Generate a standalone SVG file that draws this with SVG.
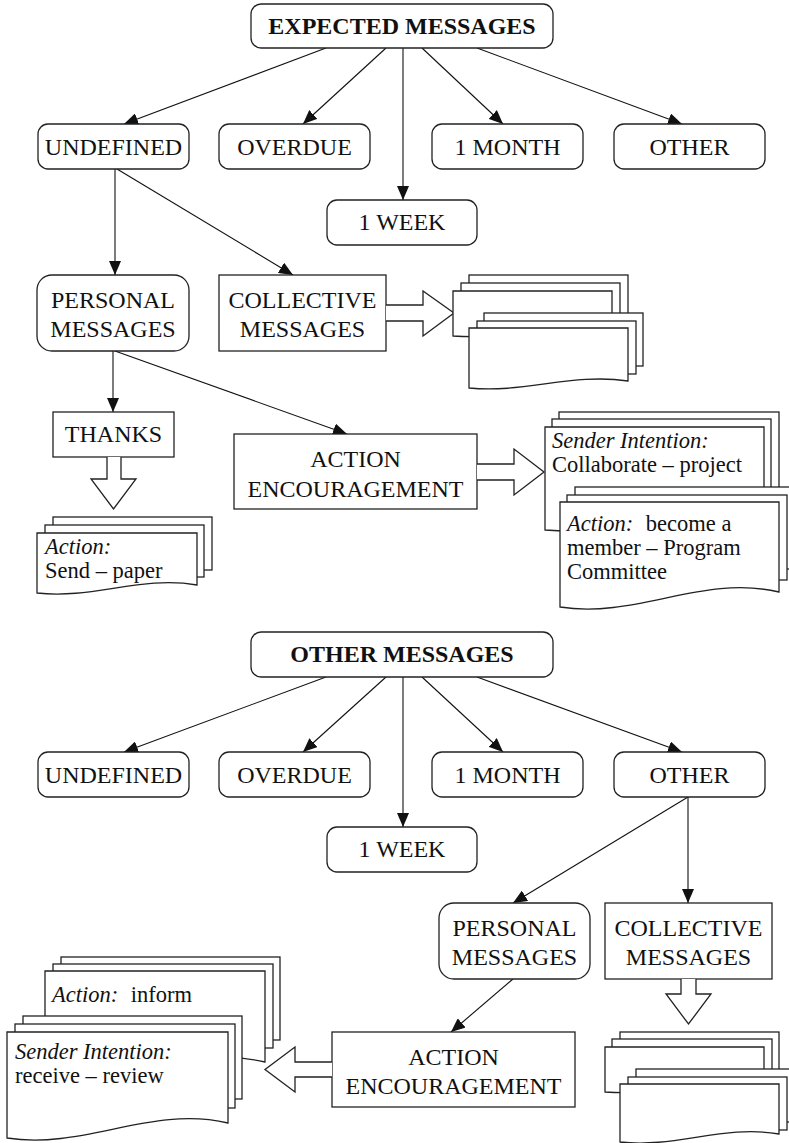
<svg xmlns="http://www.w3.org/2000/svg" width="789" height="1143" viewBox="0 0 789 1143" font-family="'Liberation Serif', 'DejaVu Serif', serif">
<style>
text{font-family:'Liberation Serif','Times New Roman','DejaVu Serif',serif;font-size:24px;fill:#111;}
text.d{font-size:22.5px;}
.b{font-weight:bold;}
.i{font-style:italic;}
.c{text-anchor:middle;}
.box{fill:#fff;stroke:#222;stroke-width:1.3;}
.sh{fill:#fff;stroke:#222;stroke-width:1.3;}
.ln{fill:none;stroke:#111;stroke-width:1.1;marker-end:url(#ah);}
.ba{fill:#fff;stroke:#222;stroke-width:1.3;}
</style>
<defs>
<marker id="ah" markerWidth="14" markerHeight="12" refX="14" refY="6" orient="auto" markerUnits="userSpaceOnUse"><path d="M0,0 L14,6 L0,12 Z" fill="#111"/></marker>
</defs>
<rect width="789" height="1143" fill="#fff"/>

<g id="connectors">
<line class="ln" x1="326" y1="48" x2="124" y2="124"/>
<line class="ln" x1="386" y1="48" x2="303" y2="124"/>
<line class="ln" x1="403" y1="48" x2="403" y2="200"/>
<line class="ln" x1="422" y1="48" x2="503" y2="124"/>
<line class="ln" x1="477" y1="48" x2="682" y2="124"/>
<line class="ln" x1="115" y1="169" x2="115" y2="275"/>
<line class="ln" x1="117" y1="169" x2="293" y2="275"/>
<line class="ln" x1="113" y1="351" x2="113" y2="412"/>
<line class="ln" x1="115" y1="351" x2="347" y2="434"/>
<line class="ln" x1="326" y1="677" x2="124" y2="752"/>
<line class="ln" x1="386" y1="677" x2="303" y2="752"/>
<line class="ln" x1="403" y1="677" x2="403" y2="827"/>
<line class="ln" x1="422" y1="677" x2="503" y2="752"/>
<line class="ln" x1="477" y1="677" x2="682" y2="752"/>
<line class="ln" x1="688" y1="797" x2="513" y2="903"/>
<line class="ln" x1="688" y1="797" x2="688" y2="903"/>
<line class="ln" x1="513" y1="979" x2="451" y2="1032"/>
</g>

<g id="expected"><rect class="box" x="251" y="4" width="302" height="44" rx="10"/><text class="b c" x="402" y="34">EXPECTED MESSAGES</text></g>
<g id="undefined1"><rect class="box" x="38" y="124" width="151" height="45" rx="10"/><text class="c" x="113.5" y="155">UNDEFINED</text></g>
<g id="overdue1"><rect class="box" x="219" y="124" width="151" height="45" rx="10"/><text class="c" x="294.5" y="155">OVERDUE</text></g>
<g id="month1"><rect class="box" x="432" y="124" width="151" height="45" rx="10"/><text class="c" x="507.5" y="155">1 MONTH</text></g>
<g id="other1"><rect class="box" x="614" y="124" width="151" height="45" rx="10"/><text class="c" x="689.5" y="155">OTHER</text></g>
<g id="week1"><rect class="box" x="327" y="200" width="150" height="45" rx="10"/><text class="c" x="402" y="230">1 WEEK</text></g>

<g id="personal1"><rect class="box" x="37" y="275" width="152" height="76" rx="15"/><text class="c" x="113" y="308">PERSONAL</text><text class="c" x="113" y="337">MESSAGES</text></g>
<g id="collective1"><rect class="box" x="219" y="275" width="167" height="76"/><text class="c" x="302.5" y="308">COLLECTIVE</text><text class="c" x="302.5" y="337">MESSAGES</text>
<path class="ba" d="M386,305 H423 V291 L454,313 L423,336 V321 H386"/></g>

<g id="docs-collective1">
<rect class="sh" x="469" y="275" width="159" height="45"/>
<rect class="sh" x="461" y="283" width="159" height="45"/>
<path class="sh" d="M453,291 H612 V331 C556.4,325 508.7,340 453,336 Z"/>
<rect class="sh" x="484" y="313" width="159" height="53"/>
<rect class="sh" x="477" y="321" width="159" height="53"/>
<path class="sh" d="M469,328 H628 V381 C572.4,372.6 524.7,393.6 469,388 Z"/>
</g>

<g id="thanks"><rect class="box" x="53" y="412" width="121" height="45"/><text class="c" x="113.5" y="442">THANKS</text>
<path class="ba" d="M107,457 V479 H91 L113.5,509 L136,479 H121 V457"/></g>

<g id="docs-thanks">
<rect class="sh" x="53" y="517" width="159" height="53"/>
<rect class="sh" x="45" y="525" width="159" height="52"/>
<path class="sh" d="M37,533 H197 V585 C141,575.4 93,599.4 37,593 Z"/>
<text class="d i" x="45" y="554">Action:</text>
<text class="d" x="45" y="578">Send – paper</text>
</g>

<g id="action1"><rect class="box" x="234" y="434" width="243" height="75"/><text class="c" x="355.5" y="467">ACTION</text><text class="c" x="355.5" y="497">ENCOURAGEMENT</text>
<path class="ba" d="M477,464 H514 V449 L544,472 L514,495 V480 H477"/></g>

<g id="docs-action1">
<rect class="sh" x="559" y="412" width="220" height="82"/>
<rect class="sh" x="552" y="419" width="219" height="85"/>
<path class="sh" d="M545,427 H764 V522 C687.4,512.4 621.7,536.4 545,530 Z"/>
<text class="d i" x="552" y="448">Sender Intention:</text>
<text class="d" x="552" y="472">Collaborate – project</text>
<rect class="sh" x="575" y="487" width="219" height="82"/>
<rect class="sh" x="567" y="495" width="220" height="85"/>
<path class="sh" d="M560,502 H779 V592 C702.4,574 636.7,619 560,607 Z"/>
<text class="d" x="567" y="531"><tspan class="i">Action:</tspan><tspan dx="7"> become a</tspan></text>
<text class="d" x="567" y="555">member – Program</text>
<text class="d" x="567" y="579">Committee</text>
</g>

<g id="othermsg"><rect class="box" x="251" y="632" width="302" height="45" rx="10"/><text class="b c" x="402" y="662">OTHER MESSAGES</text></g>
<g id="undefined2"><rect class="box" x="38" y="752" width="151" height="45" rx="10"/><text class="c" x="113.5" y="783">UNDEFINED</text></g>
<g id="overdue2"><rect class="box" x="219" y="752" width="151" height="45" rx="10"/><text class="c" x="294.5" y="783">OVERDUE</text></g>
<g id="month2"><rect class="box" x="432" y="752" width="151" height="45" rx="10"/><text class="c" x="507.5" y="783">1 MONTH</text></g>
<g id="other2"><rect class="box" x="614" y="752" width="151" height="45" rx="10"/><text class="c" x="689.5" y="783">OTHER</text></g>
<g id="week2"><rect class="box" x="327" y="827" width="150" height="45" rx="10"/><text class="c" x="402" y="857">1 WEEK</text></g>

<g id="personal2"><rect class="box" x="439" y="903" width="151" height="76" rx="15"/><text class="c" x="514.5" y="936">PERSONAL</text><text class="c" x="514.5" y="965">MESSAGES</text></g>
<g id="collective2"><rect class="box" x="605" y="903" width="167" height="76"/><text class="c" x="688.5" y="936">COLLECTIVE</text><text class="c" x="688.5" y="965">MESSAGES</text>
<path class="ba" d="M681,979 V994 H666 L688.5,1024 L711,994 H696 V979"/></g>

<g id="action2"><rect class="box" x="332" y="1032" width="243" height="75"/><text class="c" x="453.5" y="1065">ACTION</text><text class="c" x="453.5" y="1094">ENCOURAGEMENT</text>
<path class="ba" d="M332,1062 H295 V1047 L265,1069.5 L295,1092 V1077 H332"/></g>

<g id="docs-action2">
<rect class="sh" x="61" y="957" width="219" height="83"/>
<rect class="sh" x="53" y="964" width="220" height="84"/>
<path class="sh" d="M45,971 H265 V1062 C188,1044 122,1089 45,1077 Z"/>
<text class="d" x="52" y="1002"><tspan class="i">Action:</tspan><tspan dx="7"> inform</tspan></text>
<rect class="sh" x="23" y="1016" width="219" height="83"/>
<rect class="sh" x="15" y="1024" width="220" height="84"/>
<path class="sh" d="M7,1032 H228 V1123 C150.7,1105 84.4,1150 7,1138 Z"/>
<text class="d i" x="15" y="1059">Sender Intention:</text>
<text class="d" x="15" y="1083">receive – review</text>
</g>

<g id="docs-collective2">
<rect class="sh" x="620" y="1032" width="159" height="40"/>
<rect class="sh" x="612" y="1039" width="160" height="40"/>
<path class="sh" d="M605,1047 H764 V1087 C708.4,1081 660.7,1096 605,1092 Z"/>
<rect class="sh" x="636" y="1069" width="159" height="53"/>
<rect class="sh" x="628" y="1077" width="159" height="53"/>
<path class="sh" d="M620,1084 H779 V1134 C723.4,1124.4 675.7,1148.4 620,1142 Z"/>
</g>
</svg>
